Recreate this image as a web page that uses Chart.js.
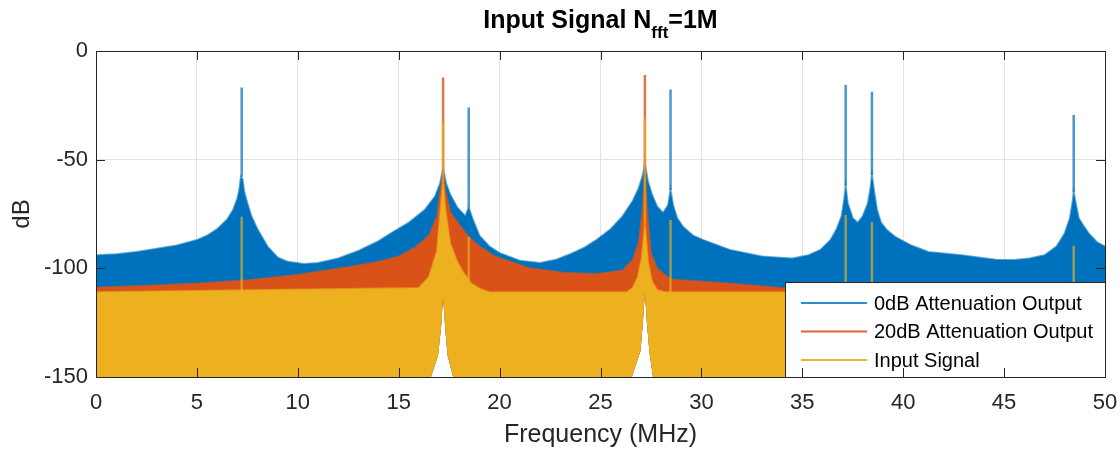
<!DOCTYPE html>
<html>
<head>
<meta charset="utf-8">
<script src="https://cdn.jsdelivr.net/npm/chart.js@4.4.1/dist/chart.umd.min.js"></script>
<style>
  body { margin: 0; background: #fff; }
</style>
</head>
<body>
<canvas id="myChart" width="1120" height="450"></canvas>
<script>
// axis ticks
var xTicks = [0, 5, 10, 15, 20, 25, 30, 35, 40, 45, 50];
var yTicks = [-150, -100, -50, 0];

// 0dB attenuation output, upper edge of the noise (MHz, dB)
var blueFreq = [0, 1, 2, 3, 4, 5, 5.5, 6, 6.5, 6.8, 7.0, 7.1, 7.18, 7.26, 7.35, 7.5, 7.7, 8.0, 8.5, 9.0, 9.5, 10.3, 11, 12, 13, 14, 14.6, 15.5, 16.3, 16.8, 17.05, 17.2, 17.35, 17.55, 17.9, 18.3, 18.47, 18.65, 19.0, 19.5, 20.0, 21, 22, 22.8, 23.5, 24.2, 24.8, 25.5, 26.1, 26.6, 26.9, 27.1, 27.2, 27.35, 27.55, 27.8, 28.1, 28.35, 28.47, 28.6, 28.8, 29.1, 29.6, 30.1, 31.4, 33, 34.5, 35.3, 35.9, 36.4, 36.7, 36.95, 37.08, 37.15, 37.25, 37.5, 37.75, 38.0, 38.25, 38.38, 38.45, 38.55, 38.7, 38.9, 39.2, 39.6, 40.4, 41.25, 42.9, 44.6, 45.5, 46.25, 47, 47.6, 48.0, 48.26, 48.4, 48.45, 48.55, 48.7, 48.9, 49.2, 49.6, 50];
var blueDb = [-94, -93.5, -92.5, -91, -89.5, -87, -85, -82, -77.5, -73, -68, -64, -58, -59, -65, -70, -76, -82, -90, -95, -97, -98, -97.5, -95.5, -92, -87.5, -84, -79, -73, -67, -61, -54, -61, -66, -72, -76, -72, -77, -85, -90, -93, -96.5, -97.5, -96, -93.5, -90.5, -87, -82, -76, -69, -63, -57, -52, -60, -66, -71.5, -74.5, -71, -64, -71, -77, -81, -85, -87, -91.5, -94.5, -95.5, -94, -91.5, -87, -82, -76, -68, -62, -70, -77, -79, -76, -70, -63, -57, -64, -73, -79, -82.5, -85.5, -89.5, -92.5, -94, -96, -96.2, -95.5, -94, -90, -84, -77, -69, -65, -70, -77, -80, -84, -88, -90];

// 20dB attenuation output, upper edge
var orangeFreq = [0, 2.5, 5, 7.5, 10, 12.6, 14, 15, 15.8, 16.5, 16.9, 17.1, 17.2, 17.3, 17.55, 18, 18.47, 19, 19.8, 21.5, 23.2, 24.8, 26.1, 26.6, 26.9, 27.1, 27.2, 27.3, 27.5, 27.8, 28.45, 29.1, 31.4, 34, 36, 50];
var orangeDb = [-108.8, -108, -107, -105.5, -103, -99.3, -97, -94.5, -90.5, -85, -76, -62, -55, -64, -74, -80, -85.5, -90, -94.7, -100, -102, -102.6, -101, -96, -88, -72, -55, -72, -93, -100, -105, -105.5, -107, -109, -109.5, -110];

// input signal, upper edge
var yellowFreq = [0, 16, 16.5, 16.9, 17.1, 17.2, 17.3, 17.55, 17.9, 18.2, 18.6, 19.04, 19.5, 26.3, 26.6, 26.85, 27.05, 27.2, 27.35, 27.55, 27.8, 28.2, 50];
var yellowDb = [-111, -109, -104, -92, -70, -60, -72, -88.5, -97, -102, -107, -109.5, -111, -111, -109, -104, -95, -80, -97, -106, -110, -111, -111];

// lower edge of all noise (white notch under the two strong tones)
var floorFreq = [0, 16.6, 16.95, 17.1, 17.2, 17.3, 17.42, 17.7, 26.55, 26.98, 27.1, 27.2, 27.3, 27.42, 27.6, 50];
var floorDb = [-150, -150, -140, -127, -113, -127, -140, -150, -150, -138, -125, -111, -125, -138, -150, -150];

// tones (MHz) and spike tops/bases (dB) per series
var toneFreq = [7.22, 17.2, 18.47, 27.2, 28.47, 37.15, 38.45, 48.45];
var blueSpikeTop = [-16.8, null, -26, null, -17.7, -15.7, -18.8, -29.5];
var blueSpikeBase = [-58, null, -72, null, -64, -62, -57, -65];
var orangeSpikeTop = [null, -12.2, null, -11, null, null, null, null];
var orangeSpikeBase = [null, -55, null, -55, null, null, null, null];
var yellowSpikeTop = [-76.3, -32.6, -85.5, -31, -77.8, -75.5, -78.7, -89.6];
var yellowSpikeBase = [-111, -60, -111, -80, -111, -111, -111, -111];

var seriesNames = ["0dB Attenuation Output", "20dB Attenuation Output", "Input Signal"];

function pts(freq, db) {
  return freq.map((f, i) => ({ x: f, y: db[i] }));
}

function spikes(tops, bases) {
  var out = [];
  toneFreq.forEach((f, i) => {
    if (tops[i] === null) return;
    out.push({ x: f, y: bases[i] }, { x: f, y: tops[i] }, { x: f, y: null });
  });
  return out;
}

var FONT = "'Liberation Sans', Arial, Helvetica, sans-serif";
Chart.defaults.font.family = FONT;
Chart.defaults.color = "#262626";

var frame = {
  id: "frame",
  afterDraw(chart) {
    var ctx = chart.ctx;
    var a = chart.chartArea;
    var x = chart.scales.x;
    var y = chart.scales.y;
    ctx.save();

    // legend box inside the lower right corner
    var lw = 320, lh = 95;
    var lx = a.right - lw, ly = a.bottom - lh;
    ctx.fillStyle = "#fff";
    ctx.fillRect(lx, ly, lw, lh);
    ctx.strokeStyle = "#262626";
    ctx.lineWidth = 1;
    ctx.strokeRect(Math.round(lx) + 0.5, Math.round(ly) + 0.5, lw, lh);
    var legendColors = ["#2f8bd0", "#dc6433", "#eeb52e"];
    ctx.font = "20px " + FONT;
    ctx.textBaseline = "middle";
    ctx.textAlign = "left";
    seriesNames.forEach((name, i) => {
      var yy = ly + 21 + i * 28.5;
      ctx.strokeStyle = legendColors[i];
      ctx.lineWidth = 2;
      ctx.beginPath();
      ctx.moveTo(lx + 16, yy);
      ctx.lineTo(lx + 82, yy);
      ctx.stroke();
      ctx.fillStyle = "#000";
      ctx.fillText(name, lx + 89, yy + 1);
    });

    // axes box with inward ticks
    ctx.strokeStyle = "#262626";
    ctx.lineWidth = 1;
    ctx.strokeRect(Math.round(a.left) + 0.5, Math.round(a.top) + 0.5, Math.round(a.right - a.left), Math.round(a.bottom - a.top));
    ctx.beginPath();
    xTicks.forEach((v) => {
      var px = Math.round(x.getPixelForValue(v)) + 0.5;
      ctx.moveTo(px, a.bottom);
      ctx.lineTo(px, a.bottom - 9);
      ctx.moveTo(px, a.top);
      ctx.lineTo(px, a.top + 9);
    });
    yTicks.forEach((v) => {
      var py = Math.round(y.getPixelForValue(v)) + 0.5;
      ctx.moveTo(a.left, py);
      ctx.lineTo(a.left + 9, py);
      ctx.moveTo(a.right, py);
      ctx.lineTo(a.right - 9, py);
    });
    ctx.stroke();

    // title with subscript
    var cx = (a.left + a.right) / 2;
    var t1 = "Input Signal N", t2 = "fft", t3 = "=1M";
    ctx.fillStyle = "#000";
    ctx.textBaseline = "alphabetic";
    ctx.font = "bold 25px " + FONT;
    var w1 = ctx.measureText(t1).width;
    var w3 = ctx.measureText(t3).width;
    ctx.font = "bold 17px " + FONT;
    var w2 = ctx.measureText(t2).width;
    var sx = cx - (w1 + w2 + w3) / 2;
    ctx.font = "bold 25px " + FONT;
    ctx.fillText(t1, sx, 28);
    ctx.font = "bold 17px " + FONT;
    ctx.fillText(t2, sx + w1, 38);
    ctx.font = "bold 25px " + FONT;
    ctx.fillText(t3, sx + w1 + w2, 28);
    ctx.restore();
  },
};

var ctx = document.getElementById("myChart").getContext("2d");
var myChart = new Chart(ctx, {
  type: "line",
  data: {
    datasets: [
      {
        label: "Input Signal tones",
        data: spikes(yellowSpikeTop, yellowSpikeBase),
        borderColor: "rgba(237, 177, 32, 0.65)",
        borderWidth: 2.5,
        fill: false,
        spanGaps: false,
        order: 1,
      },
      {
        label: seriesNames[2],
        data: pts(yellowFreq, yellowDb),
        borderColor: "rgba(237, 177, 32, 0.6)",
        backgroundColor: "#EDB120",
        borderWidth: 2,
        fill: 6,
        order: 2,
      },
      {
        label: "20dB tones",
        data: spikes(orangeSpikeTop, orangeSpikeBase),
        borderColor: "rgba(217, 83, 25, 0.8)",
        borderWidth: 2.5,
        fill: false,
        spanGaps: false,
        order: 3,
      },
      {
        label: seriesNames[1],
        data: pts(orangeFreq, orangeDb),
        borderColor: "rgba(217, 83, 25, 0.6)",
        backgroundColor: "#D95319",
        borderWidth: 2,
        fill: 6,
        order: 4,
      },
      {
        label: "0dB tones",
        data: spikes(blueSpikeTop, blueSpikeBase),
        borderColor: "rgba(0, 114, 189, 0.72)",
        borderWidth: 2.5,
        fill: false,
        spanGaps: false,
        order: 5,
      },
      {
        label: seriesNames[0],
        data: pts(blueFreq, blueDb),
        borderColor: "rgba(0, 114, 189, 0.6)",
        backgroundColor: "#0072BD",
        borderWidth: 2,
        fill: 6,
        order: 6,
      },
      {
        label: "floor",
        data: pts(floorFreq, floorDb),
        borderColor: "rgba(0,0,0,0)",
        borderWidth: 0,
        fill: false,
        order: 7,
      },
    ],
  },
  options: {
    responsive: false,
    animation: false,
    devicePixelRatio: 1,
    elements: { point: { radius: 0, hoverRadius: 0 }, line: { tension: 0 } },
    layout: { padding: { top: 51, right: 15, left: 0, bottom: 0 } },
    plugins: {
      legend: { display: false },
      tooltip: { enabled: false },
      title: { display: false },
    },
    scales: {
      x: {
        type: "linear",
        min: 0,
        max: 50,
        afterFit: (s) => { s.height = 73; s.paddingLeft = 0; s.paddingRight = 0; },
        afterBuildTicks: (s) => { s.ticks = xTicks.map((v) => ({ value: v })); },
        ticks: { font: { size: 22 }, padding: 13, color: "#262626", maxRotation: 0 },
        grid: { color: "#e3e3e3", drawTicks: false },
        border: { display: false },
        title: { display: true, text: "Frequency (MHz)", font: { size: 25 }, color: "#262626", padding: { top: 0, bottom: 0 } },
      },
      y: {
        type: "linear",
        min: -150,
        max: 0,
        afterFit: (s) => { s.width = 96; s.paddingTop = 0; s.paddingBottom = 0; },
        afterBuildTicks: (s) => { s.ticks = yTicks.map((v) => ({ value: v })); },
        ticks: { font: { size: 22 }, padding: 8, color: "#262626" },
        grid: { color: "#e3e3e3", drawTicks: false },
        border: { display: false },
        title: { display: true, text: "dB", font: { size: 24 }, color: "#262626", padding: { top: 8, bottom: 0 } },
      },
    },
  },
  plugins: [frame],
});
</script>
</body>
</html>
